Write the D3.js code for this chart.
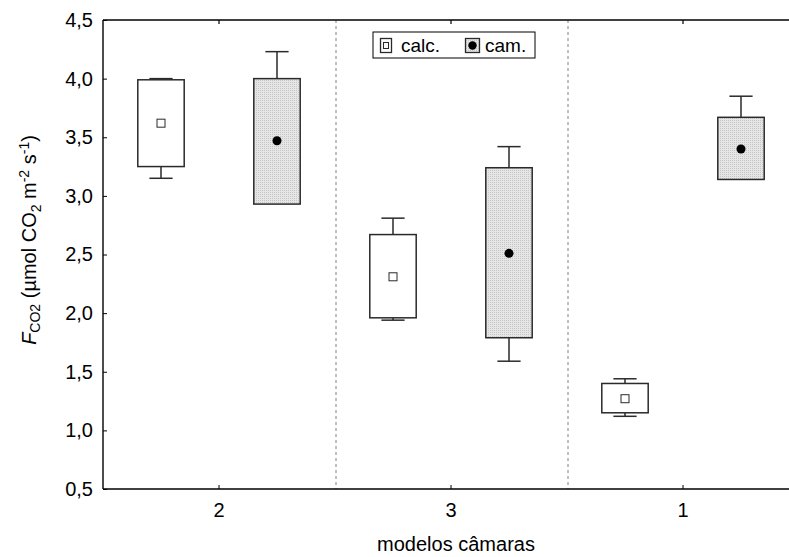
<!DOCTYPE html>
<html>
<head>
<meta charset="utf-8">
<script src="https://cdn.jsdelivr.net/npm/d3@7"></script>
<style>
  html, body { margin: 0; padding: 0; background: #fff; }
  svg { display: block; font-family: "Liberation Sans", Arial, sans-serif; }
</style>
</head>
<body>
<svg id="chart" width="789" height="557"></svg>
<script>
// ---- data ----
const categories = ["2", "3", "1"];
const yTicks = [0.5, 1.0, 1.5, 2.0, 2.5, 3.0, 3.5, 4.0, 4.5];
const seriesNames = ["calc.", "cam."];
const calcMin = [3.15, 1.94, 1.12];
const calcQ1  = [3.25, 1.96, 1.15];
const calcMid = [3.62, 2.31, 1.27];
const calcQ3  = [3.99, 2.67, 1.40];
const calcMax = [4.00, 2.81, 1.44];
const camMin  = [2.93, 1.59, 3.14];
const camQ1   = [2.93, 1.79, 3.14];
const camMid  = [3.47, 2.51, 3.40];
const camQ3   = [4.00, 3.24, 3.67];
const camMax  = [4.23, 3.42, 3.85];

// ---- layout ----
const L = 103, R = 799, T = 20, B = 489;
const svg = d3.select("#chart");
const FS = 20;

const defs = svg.append("defs");
const pat = defs.append("pattern").attr("id", "dots")
  .attr("width", 2).attr("height", 2).attr("patternUnits", "userSpaceOnUse");
pat.append("rect").attr("width", 2).attr("height", 2).attr("fill", "#e6e6e6");
pat.append("rect").attr("width", 1).attr("height", 1).attr("fill", "#c6c6c6");

const x = d3.scaleBand().domain(categories).range([L, R]);
const y = d3.scaleLinear().domain([0.5, 4.5]).range([B, T]);
const bw = x.bandwidth();
const center = c => x(c) + bw / 2;
const seriesOffset = d3.scalePoint().domain(seriesNames).range([-0.25 * bw, 0.25 * bw]);
const boxW = 0.2 * bw;
const capW = boxW / 2;

// dividers
svg.append("g").selectAll("line").data(categories.slice(1)).join("line")
  .attr("x1", d => x(d) + 1).attr("x2", d => x(d) + 1)
  .attr("y1", T).attr("y2", B)
  .attr("stroke", "#808080").attr("stroke-width", 1).attr("stroke-dasharray", "3,3");

// top border with ticks
const topAxis = svg.append("g").attr("transform", `translate(0,${T})`)
  .call(d3.axisTop(x).tickSize(-4).tickFormat(""));
topAxis.select(".domain").attr("d", `M${L},0H${R}`).attr("stroke-width", 1.4);
topAxis.selectAll(".tick line").attr("stroke-width", 1.2);

// axes
const fmt = d => d3.format(".1f")(d).replace(".", ",");
const yAxis = svg.append("g").attr("transform", `translate(${L},0)`)
  .call(d3.axisLeft(y).tickValues(yTicks).tickSize(-4).tickPadding(10).tickFormat(fmt));
yAxis.select(".domain").attr("d", `M0,${B}V${T}`).attr("stroke-width", 1.4);
yAxis.selectAll("text").attr("font-size", FS).attr("font-family", "Liberation Sans, Arial, sans-serif").attr("fill", "#000");

const xAxis = svg.append("g").attr("transform", `translate(0,${B})`)
  .call(d3.axisBottom(x).tickSize(-4).tickPadding(14));
xAxis.select(".domain").attr("d", `M${L},0H${R}`).attr("stroke-width", 1.4);
xAxis.selectAll("text").attr("font-size", FS).attr("font-family", "Liberation Sans, Arial, sans-serif").attr("fill", "#000");

// boxes
const series = [
  { name: "calc.", min: calcMin, q1: calcQ1, mid: calcMid, q3: calcQ3, max: calcMax, fill: "#ffffff" },
  { name: "cam.",  min: camMin,  q1: camQ1,  mid: camMid,  q3: camQ3,  max: camMax,  fill: "url(#dots)" }
];
const stroke = "#2a2a2a";
series.forEach(s => {
  const g = svg.append("g");
  categories.forEach((c, i) => {
    const cx = center(c) + seriesOffset(s.name);
    [[s.q3[i], s.max[i]], [s.q1[i], s.min[i]]].forEach(([a, b]) => {
      if (Math.abs(a - b) > 1e-9) {
        g.append("line").attr("x1", cx).attr("x2", cx).attr("y1", y(a)).attr("y2", y(b))
          .attr("stroke", stroke).attr("stroke-width", 1.5);
        g.append("line").attr("x1", cx - capW / 2).attr("x2", cx + capW / 2).attr("y1", y(b)).attr("y2", y(b))
          .attr("stroke", stroke).attr("stroke-width", 1.5);
      }
    });
    g.append("rect").attr("x", cx - boxW / 2).attr("y", y(s.q3[i]))
      .attr("width", boxW).attr("height", y(s.q1[i]) - y(s.q3[i]))
      .attr("fill", s.fill).attr("stroke", stroke).attr("stroke-width", 1.5);
    if (s.name === "calc.") {
      g.append("rect").attr("x", cx - 4).attr("y", y(s.mid[i]) - 4).attr("width", 8).attr("height", 8)
        .attr("fill", "#fff").attr("stroke", stroke).attr("stroke-width", 1);
    } else {
      g.append("circle").attr("cx", cx).attr("cy", y(s.mid[i])).attr("r", 4.5).attr("fill", "#000");
    }
  });
});

// legend
const lg = svg.append("g");
lg.append("rect").attr("x", 373).attr("y", 32).attr("width", 162).attr("height", 26)
  .attr("fill", "#fff").attr("stroke", "#000").attr("stroke-width", 1);
lg.append("rect").attr("x", 380.5).attr("y", 38.5).attr("width", 11).attr("height", 14)
  .attr("fill", "#fff").attr("stroke", stroke).attr("stroke-width", 1.3);
lg.append("rect").attr("x", 383.5).attr("y", 42.5).attr("width", 5).attr("height", 6)
  .attr("fill", "#fff").attr("stroke", stroke).attr("stroke-width", 1);
lg.append("text").attr("x", 401).attr("y", 52).attr("font-size", 19).text(seriesNames[0]);
lg.append("rect").attr("x", 465.5).attr("y", 38.5).attr("width", 14).attr("height", 14)
  .attr("fill", "url(#dots)").attr("stroke", stroke).attr("stroke-width", 1.3);
lg.append("circle").attr("cx", 472.5).attr("cy", 45.5).attr("r", 4.2).attr("fill", "#000");
lg.append("text").attr("x", 485).attr("y", 52).attr("font-size", 19).text(seriesNames[1]);

// x label
svg.append("text").attr("x", (L + 789) / 2 + 10).attr("y", 551).attr("text-anchor", "middle")
  .attr("font-size", FS).text("modelos câmaras");

// y label
const yl = svg.append("text").attr("transform", "translate(36,240) rotate(-90)")
  .attr("text-anchor", "middle").attr("font-size", FS);
yl.append("tspan").attr("font-style", "italic").text("F");
yl.append("tspan").attr("font-size", 14).attr("dy", 4).text("CO2");
yl.append("tspan").attr("dy", -4).text(" (µmol CO");
yl.append("tspan").attr("font-size", 14).attr("dy", 5).text("2");
yl.append("tspan").attr("dy", -5).text(" m");
yl.append("tspan").attr("font-size", 14).attr("dy", -7).text("-2");
yl.append("tspan").attr("dy", 7).text(" s");
yl.append("tspan").attr("font-size", 14).attr("dy", -7).text("-1");
yl.append("tspan").attr("dy", 7).text(")");
</script>
</body>
</html>
